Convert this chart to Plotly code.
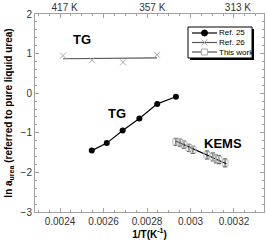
import plotly.graph_objects as go

# Ref. 25 (TG) - black filled circles
ref25_x = [0.002546, 0.002615, 0.002688, 0.002765, 0.002847, 0.002933]
ref25_y = [-1.45, -1.26, -0.94, -0.64, -0.27, -0.09]

# Ref. 26 (TG) - gray crosses, with fitted line
ref26_x = [0.002414, 0.002547, 0.002690, 0.002846]
ref26_y = [0.95, 0.83, 0.78, 0.97]
ref26_fit_x = [0.002414, 0.002846]
ref26_fit_y = [0.87, 0.89]

# This work (KEMS) - open squares with error bars
kems_x = [0.002933, 0.002952, 0.002970, 0.002993, 0.003011, 0.003076, 0.003103, 0.003117, 0.003131, 0.003159]
kems_y = [-1.23, -1.25, -1.30, -1.38, -1.43, -1.56, -1.61, -1.66, -1.68, -1.76]
kems_err = [0.09, 0.09, 0.09, 0.09, 0.09, 0.1, 0.1, 0.1, 0.1, 0.1]
kems_fit_x = [0.002933, 0.003165]
kems_fit_y = [-1.21, -1.78]

x_tickvals = [0.0024, 0.0026, 0.0028, 0.0030, 0.0032]
x_ticktext = ["0.0024", "0.0026", "0.0028", "0.003", "0.0032"]
top_temps = [417, 357, 313]
y_tickvals = [-3, -2, -1, 0, 1, 2]
legend_names = ["Ref. 25", "Ref. 26", "This work"]

FONT = "Liberation Sans, Arial, sans-serif"
AX = "#a0a0a0"
W, H = 267, 248
ML, MR, MT, MB = 35, 3, 14, 36
PW, PH = W - ML - MR, H - MT - MB


def px(x):
    return (x - ML) / PW


def py(y):
    return (H - MB - y) / PH


fig = go.Figure()

fig.add_trace(go.Scatter(
    x=ref25_x, y=ref25_y, mode="lines+markers", name=legend_names[0],
    line=dict(color="black", width=1.2),
    marker=dict(symbol="circle", size=6, color="black")))

fig.add_trace(go.Scatter(
    x=ref26_fit_x, y=ref26_fit_y, mode="lines",
    line=dict(color="#555555", width=1.2)))
fig.add_trace(go.Scatter(
    x=ref26_x, y=ref26_y, mode="markers", name=legend_names[1],
    marker=dict(symbol="x-thin", size=6, color="#aaaaaa",
                line=dict(color="#aaaaaa", width=1))))

fig.add_trace(go.Scatter(
    x=kems_fit_x, y=kems_fit_y, mode="lines", line=dict(color="black", width=1.2)))
fig.add_trace(go.Scatter(
    x=kems_x, y=kems_y, mode="markers", name=legend_names[2],
    error_y=dict(type="data", array=kems_err, color="#333333", thickness=1, width=2),
    marker=dict(symbol="square-open", size=6, color="#bbbbbb",
                line=dict(color="#bbbbbb", width=1))))

fig.add_trace(go.Scatter(x=[None], y=[None], xaxis="x2"))

fig.add_annotation(x=0.002503, y=1.35, text="<b>TG</b>", showarrow=False,
                   font=dict(size=13, family=FONT, color="black"))
fig.add_annotation(x=0.002663, y=-0.5, text="<b>TG</b>", showarrow=False,
                   font=dict(size=13, family=FONT, color="black"))
fig.add_annotation(x=0.003148, y=-1.26, text="<b>KEMS</b>", showarrow=False,
                   font=dict(size=13, family=FONT, color="black"))

# custom legend box (with drop shadow)
bx0, bx1, by0, by1 = 188, 252, 27, 58
fig.add_shape(type="rect", xref="paper", yref="paper",
              x0=px(bx0 + 2), x1=px(bx1 + 2), y0=py(by1 + 2), y1=py(by0 + 2),
              fillcolor="black", line=dict(width=0), layer="above")
fig.add_shape(type="rect", xref="paper", yref="paper",
              x0=px(bx0), x1=px(bx1), y0=py(by1), y1=py(by0),
              fillcolor="white", line=dict(color="black", width=1), layer="above")
rows = [33, 42.5, 52]
line_cols = ["black", "#555555", "#555555"]
for i, (name, ry) in enumerate(zip(legend_names, rows)):
    fig.add_shape(type="line", xref="paper", yref="paper",
                  x0=px(192), x1=px(217), y0=py(ry), y1=py(ry),
                  line=dict(color=line_cols[i], width=1.2), layer="above")
    fig.add_annotation(xref="paper", yref="paper", x=px(217.5), y=py(ry), text=name,
                       showarrow=False, xanchor="left", yanchor="middle", borderpad=0,
                       font=dict(size=8, family=FONT, color="black"))
cx = 204.5
r0 = rows[0]
fig.add_shape(type="circle", xref="paper", yref="paper",
              x0=px(cx - 3), x1=px(cx + 3), y0=py(r0 + 3), y1=py(r0 - 3),
              fillcolor="black", line=dict(color="black", width=1), layer="above")
r1 = rows[1]
fig.add_shape(type="path", xref="paper", yref="paper",
              path=(f"M {px(cx-3)} {py(r1-3)} L {px(cx+3)} {py(r1+3)} "
                    f"M {px(cx-3)} {py(r1+3)} L {px(cx+3)} {py(r1-3)}"),
              line=dict(color="#aaaaaa", width=1), layer="above")
r2 = rows[2]
fig.add_shape(type="rect", xref="paper", yref="paper",
              x0=px(cx - 3), x1=px(cx + 3), y0=py(r2 + 3), y1=py(r2 - 3),
              fillcolor="white", line=dict(color="#aaaaaa", width=1), layer="above")

xr = [0.002285, 0.003338]
fig.update_layout(
    width=W, height=H,
    margin=dict(l=ML, r=MR, t=MT, b=MB),
    paper_bgcolor="white", plot_bgcolor="white",
    showlegend=False,
    font=dict(family=FONT, size=10, color="#333333"),
    xaxis=dict(range=xr, tickvals=x_tickvals, ticktext=x_ticktext,
               ticks="inside", ticklen=4, tickcolor=AX, showline=True, linecolor=AX,
               mirror="ticks", showgrid=False, zeroline=False,
               minor=dict(dtick=0.00005, tick0=0.0024, ticks="inside", ticklen=2, tickcolor=AX),
               title=dict(text="<b>1/T(K<sup>-1</sup>)</b>", standoff=4,
                          font=dict(size=10, color="black"))),
    xaxis2=dict(range=xr, overlaying="x", side="top",
                tickvals=[1 / t for t in top_temps],
                ticktext=[f"{t} K" for t in top_temps],
                ticks="", showline=False, showgrid=False, zeroline=False, ticklabelshift=5),
    yaxis=dict(range=[-3, 2], tickvals=y_tickvals,
               ticks="inside", ticklen=4, tickcolor=AX, showline=True, linecolor=AX,
               mirror="ticks", showgrid=False, zeroline=False,
               minor=dict(dtick=0.2, ticks="inside", ticklen=2, tickcolor=AX),
               title=dict(text="<b>ln a<sub>urea</sub> (referred to pure liquid urea)</b>",
                          standoff=6, font=dict(size=10, color="black"))),
)

fig.write_html("out.html", config={"displayModeBar": False},
               post_script="document.body.style.margin='0';")
